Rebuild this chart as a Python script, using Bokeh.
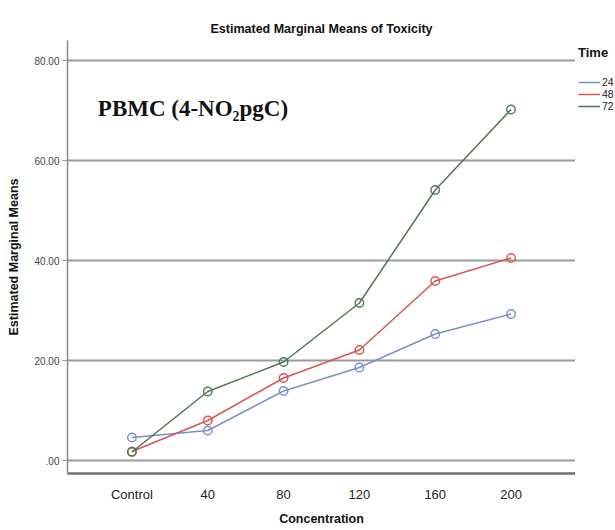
from bokeh.plotting import figure
from bokeh.models import Range1d, FixedTicker, Legend, LegendItem, Label
from bokeh.layouts import row
from bokeh.embed import file_html
from bokeh.resources import INLINE

categories = ["Control", "40", "80", "120", "160", "200"]
time_labels = ["24", "48", "72"]
toxicity_24 = [4.6, 6.0, 13.9, 18.6, 25.3, 29.3]
toxicity_48 = [1.8, 8.0, 16.5, 22.1, 35.9, 40.5]
toxicity_72 = [1.7, 13.8, 19.7, 31.5, 54.1, 70.2]
y_ticks = [0, 20, 40, 60, 80]
y_tick_labels = [".00", "20.00", "40.00", "60.00", "80.00"]

series = [toxicity_24, toxicity_48, toxicity_72]
colors = ["#7590cc", "#d9544f", "#4a7a55"]
xs = list(range(len(categories)))

p = figure(width=575, height=530, output_backend="svg", toolbar_location=None,
           x_range=Range1d(-0.85, 5.85), y_range=Range1d(-2.6, 84),
           min_border_left=67, min_border_right=0, min_border_top=40, min_border_bottom=57,
           title="Estimated Marginal Means of Toxicity")
p.outline_line_color = None
p.background_fill_color = "white"
p.title.align = "center"
p.title.text_font = "Liberation Sans"
p.title.text_font_size = "12.5px"
p.title.text_font_style = "bold"
p.title.text_color = "#111111"

p.xgrid.grid_line_color = None
p.ygrid.grid_line_color = "#9a9a9a"
p.ygrid.grid_line_width = 2
p.ygrid.ticker = FixedTicker(ticks=y_ticks)

p.yaxis.ticker = FixedTicker(ticks=y_ticks)
p.yaxis.major_label_overrides = {t: l for t, l in zip(y_ticks, y_tick_labels)}
p.yaxis.major_label_text_font = "Liberation Sans"
p.yaxis.major_label_text_font_size = "10px"
p.yaxis.major_label_text_color = "#444444"
p.yaxis.major_tick_out = 5
p.yaxis.major_tick_in = 0
p.yaxis.major_tick_line_color = "#9a9a9a"
p.yaxis.minor_tick_line_color = None
p.yaxis.axis_line_color = "#8a8a8a"
p.yaxis.axis_line_width = 1.5
p.yaxis.axis_label = "Estimated Marginal Means"
p.yaxis.axis_label_text_font = "Liberation Sans"
p.yaxis.axis_label_text_font_size = "12.5px"
p.yaxis.axis_label_text_font_style = "bold"
p.yaxis.axis_label_text_color = "#111111"
p.yaxis.axis_label_standoff = 10
p.yaxis.major_label_standoff = 3

p.xaxis.ticker = FixedTicker(ticks=xs)
p.xaxis.major_label_overrides = {i: c for i, c in enumerate(categories)}
p.xaxis.major_label_text_font = "Liberation Sans"
p.xaxis.major_label_text_font_size = "13px"
p.xaxis.major_label_text_color = "#222222"
p.xaxis.major_tick_line_color = None
p.xaxis.minor_tick_line_color = None
p.xaxis.axis_line_color = "#707070"
p.xaxis.axis_line_width = 2.5
p.xaxis.major_label_standoff = 7
p.xaxis.axis_label = "Concentration"
p.xaxis.axis_label_text_font = "Liberation Sans"
p.xaxis.axis_label_text_font_size = "12.5px"
p.xaxis.axis_label_text_font_style = "bold"
p.xaxis.axis_label_text_color = "#111111"
p.xaxis.axis_label_standoff = 7

for ys, c in zip(series, colors):
    p.line(xs, ys, line_color=c, line_width=1.5)
    p.scatter(xs, ys, marker="circle", size=8.5, line_color=c, line_width=1.4, fill_color=None)

p.add_layout(Label(x=-0.45, y=70.4, text="PBMC (4-NO₂pgC)", text_font="Liberation Serif",
                   text_font_size="23px", text_font_style="bold", text_color="#111111",
                   text_baseline="alphabetic"))

# Legend panel to the right of the plot frame (series drawn out of its view range,
# only their legend glyphs show)
lp = figure(width=40, height=530, output_backend="svg", toolbar_location=None,
            x_range=Range1d(0, 1), y_range=Range1d(-1, 0),
            x_axis_type=None, y_axis_type=None, min_border=0)
lp.outline_line_color = None
items = []
for lab, ys, c in zip(time_labels, series, colors):
    r = lp.line(xs, ys, line_color=c, line_width=1.5)
    items.append(LegendItem(label=lab, renderers=[r]))

legend = Legend(items=items, location=(3, 361), title="Time",
                title_text_font="Liberation Sans", title_text_font_size="13px",
                title_text_font_style="bold", title_text_color="#111111", title_standoff=16,
                label_text_font="Liberation Sans", label_text_font_size="10.5px",
                label_text_line_height=0.85,
                label_text_color="#222222",
                glyph_width=22, glyph_height=10, label_height=10, spacing=0,
                label_standoff=2, padding=0, margin=0,
                border_line_color=None, background_fill_alpha=0)
lp.add_layout(legend, "center")

layout = row(p, lp, spacing=0)
open("out.html", "w").write(file_html(layout, INLINE))
